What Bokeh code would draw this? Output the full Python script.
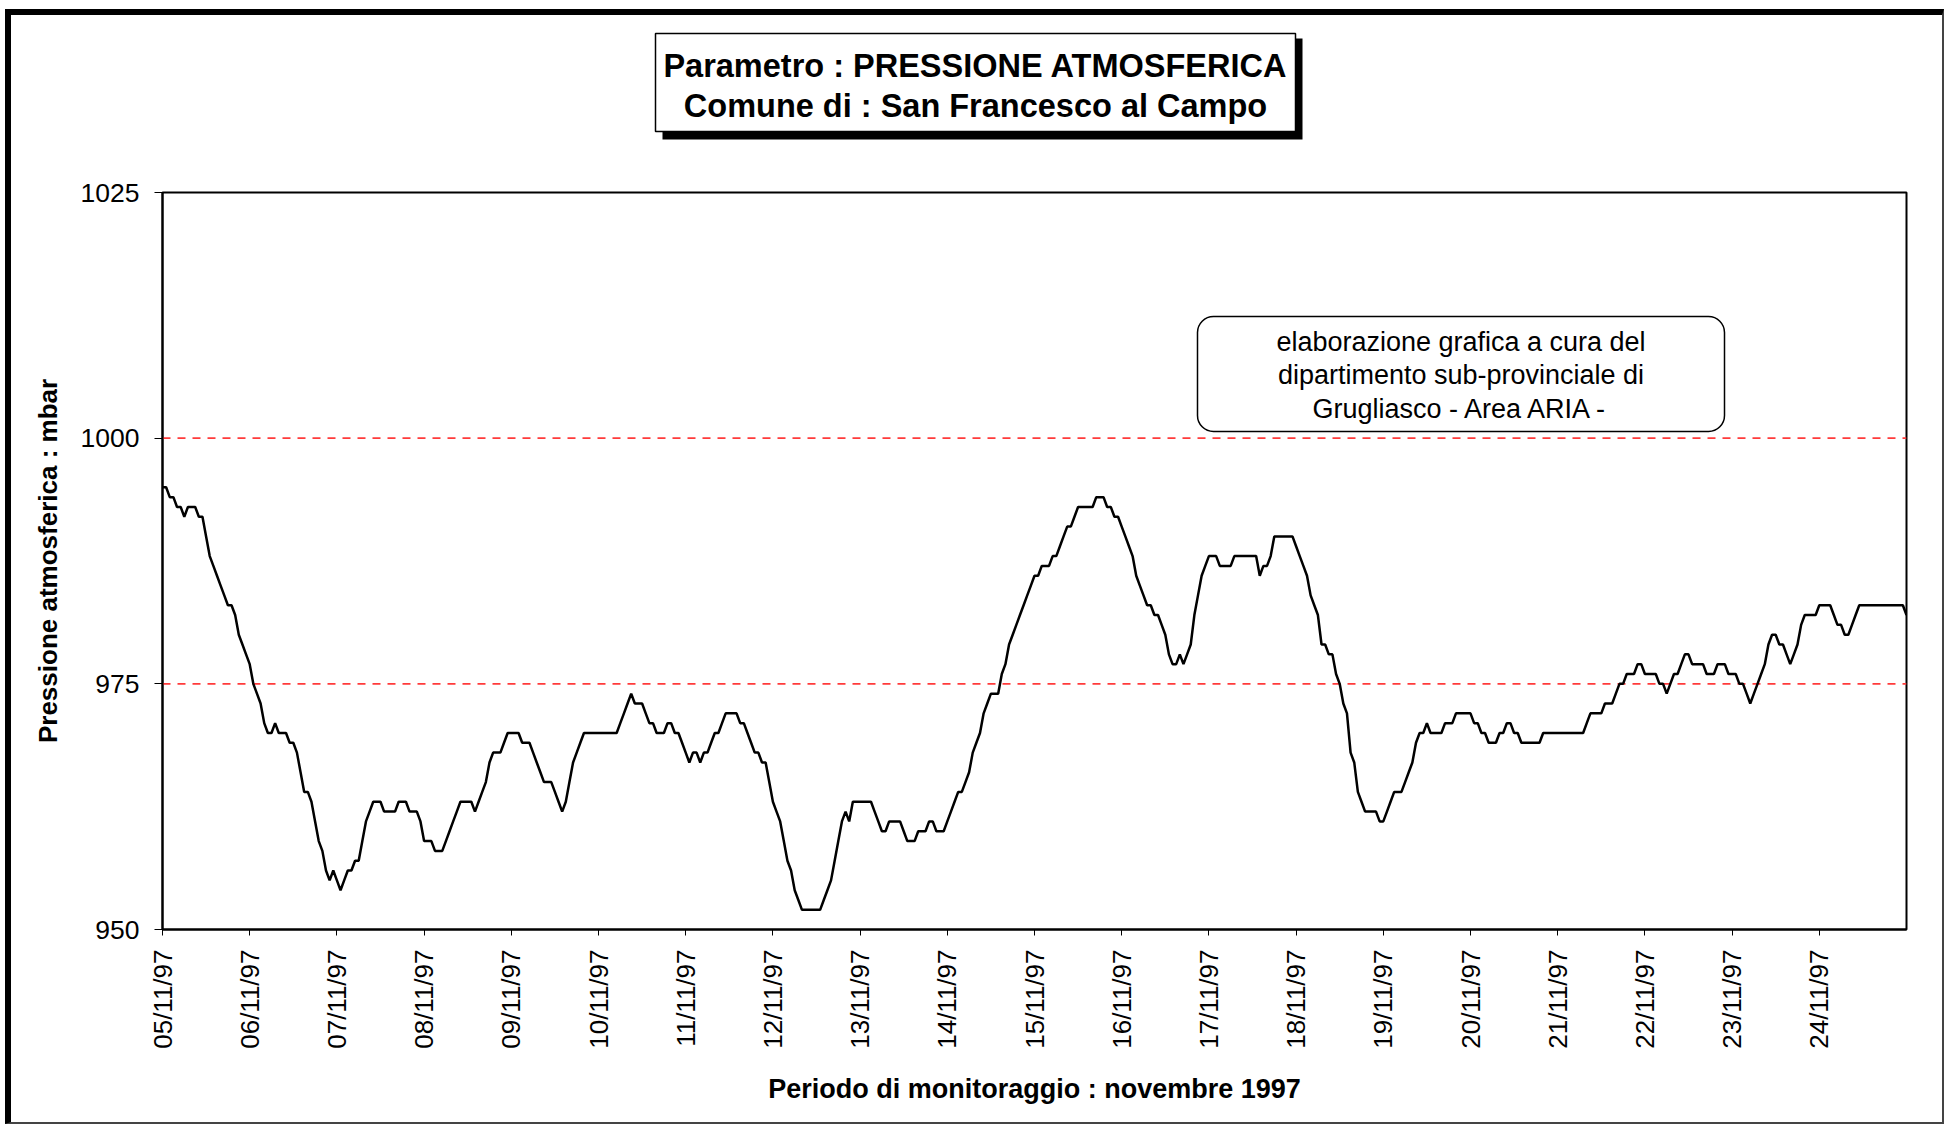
import numpy as np
from bokeh.plotting import figure
from bokeh.layouts import column
from bokeh.models import FixedTicker, Span, BoxAnnotation, Label, Range1d
from bokeh.embed import file_html
from bokeh.resources import INLINE

# ---- hourly pressure readings (mbar), one list per day of November 1997 ----
day_05 = [995, 995, 994, 994, 993, 993, 992, 993, 993, 993, 992, 992, 990, 988, 987, 986, 985, 984, 983, 983, 982, 980, 979, 978]
day_06 = [977, 975, 974, 973, 971, 970, 970, 971, 970, 970, 970, 969, 969, 968, 966, 964, 964, 963, 961, 959, 958, 956, 955, 956]
day_07 = [955, 954, 955, 956, 956, 957, 957, 959, 961, 962, 963, 963, 963, 962, 962, 962, 962, 963, 963, 963, 962, 962, 962, 961]
day_08 = [959, 959, 959, 958, 958, 958, 959, 960, 961, 962, 963, 963, 963, 963, 962, 963, 964, 965, 967, 968, 968, 968, 969, 970]
day_09 = [970, 970, 970, 969, 969, 969, 968, 967, 966, 965, 965, 965, 964, 963, 962, 963, 965, 967, 968, 969, 970, 970, 970, 970]
day_10 = [970, 970, 970, 970, 970, 970, 971, 972, 973, 974, 973, 973, 973, 972, 971, 971, 970, 970, 970, 971, 971, 970, 970, 969]
day_11 = [968, 967, 968, 968, 967, 968, 968, 969, 970, 970, 971, 972, 972, 972, 972, 971, 971, 970, 969, 968, 968, 967, 967, 965]
day_12 = [963, 962, 961, 959, 957, 956, 954, 953, 952, 952, 952, 952, 952, 952, 953, 954, 955, 957, 959, 961, 962, 961, 963, 963]
day_13 = [963, 963, 963, 963, 962, 961, 960, 960, 961, 961, 961, 961, 960, 959, 959, 959, 960, 960, 960, 961, 961, 960, 960, 960]
day_14 = [961, 962, 963, 964, 964, 965, 966, 968, 969, 970, 972, 973, 974, 974, 974, 976, 977, 979, 980, 981, 982, 983, 984, 985]
day_15 = [986, 986, 987, 987, 987, 988, 988, 989, 990, 991, 991, 992, 993, 993, 993, 993, 993, 994, 994, 994, 993, 993, 992, 992]
day_16 = [991, 990, 989, 988, 986, 985, 984, 983, 983, 982, 982, 981, 980, 978, 977, 977, 978, 977, 978, 979, 982, 984, 986, 987]
day_17 = [988, 988, 988, 987, 987, 987, 987, 988, 988, 988, 988, 988, 988, 988, 986, 987, 987, 988, 990, 990, 990, 990, 990, 990]
day_18 = [989, 988, 987, 986, 984, 983, 982, 979, 979, 978, 978, 976, 975, 973, 972, 968, 967, 964, 963, 962, 962, 962, 962, 961]
day_19 = [961, 962, 963, 964, 964, 964, 965, 966, 967, 969, 970, 970, 971, 970, 970, 970, 970, 971, 971, 971, 972, 972, 972, 972]
day_20 = [972, 971, 971, 970, 970, 969, 969, 969, 970, 970, 971, 971, 970, 970, 969, 969, 969, 969, 969, 969, 970, 970, 970, 970]
day_21 = [970, 970, 970, 970, 970, 970, 970, 970, 971, 972, 972, 972, 972, 973, 973, 973, 974, 975, 975, 976, 976, 976, 977, 977]
day_22 = [976, 976, 976, 976, 975, 975, 974, 975, 976, 976, 977, 978, 978, 977, 977, 977, 977, 976, 976, 976, 977, 977, 977, 976]
day_23 = [976, 976, 975, 975, 974, 973, 974, 975, 976, 977, 979, 980, 980, 979, 979, 978, 977, 978, 979, 981, 982, 982, 982, 982]
day_24 = [983, 983, 983, 983, 982, 981, 981, 980, 980, 981, 982, 983, 983, 983, 983, 983, 983, 983, 983, 983, 983, 983, 983, 983]
day_25 = [982]

pressione_mbar = (day_05 + day_06 + day_07 + day_08 + day_09 + day_10 + day_11 + day_12
                  + day_13 + day_14 + day_15 + day_16 + day_17 + day_18 + day_19 + day_20
                  + day_21 + day_22 + day_23 + day_24 + day_25)
ore = list(range(len(pressione_mbar)))

tick_labels = ["05/11/97", "06/11/97", "07/11/97", "08/11/97", "09/11/97", "10/11/97",
               "11/11/97", "12/11/97", "13/11/97", "14/11/97", "15/11/97", "16/11/97",
               "17/11/97", "18/11/97", "19/11/97", "20/11/97", "21/11/97", "22/11/97",
               "23/11/97", "24/11/97"]
tick_ore = [24 * i for i in range(len(tick_labels))]
y_ticks = [950, 975, 1000, 1025]
soglie = [975, 1000]

title_lines = ["Parametro : PRESSIONE ATMOSFERICA", "Comune di : San Francesco al Campo"]
note_lines = ["elaborazione grafica a cura del", "dipartimento sub-provinciale di",
              "Grugliasco - Area ARIA -"]

FONT = "Liberation Sans"
W = 1931

def cbox(l, r, t, b, **kw):
    return BoxAnnotation(left=l, right=r, top=t, bottom=b, left_units="canvas",
                         right_units="canvas", top_units="canvas", bottom_units="canvas",
                         fill_alpha=1.0, line_alpha=1.0, **kw)

# ---------------- header (title box with shadow) ----------------
HH = 145
ph = figure(width=W, height=HH, output_backend="svg", toolbar_location=None,
            x_range=Range1d(0, W), y_range=Range1d(0, HH),
            x_axis_location=None, y_axis_location=None, min_border=0)
ph.grid.visible = False
ph.outline_line_color = None
ph.background_fill_color = "white"
ph.border_fill_color = "white"
ph.add_layout(cbox(651, 1291, 23, 124, fill_color="black", line_color=None))
ph.add_layout(cbox(644, 1284, 18, 116, fill_color="white", line_color="black", line_width=1.5))
for i, t in enumerate(title_lines):
    ph.add_layout(Label(x=964, y=50 + 40.5 * i, x_units="canvas", y_units="canvas", text=t,
                        text_align="center", text_baseline="middle", text_font=FONT,
                        text_font_size="32.5px", text_font_style="bold", text_color="black"))

# ---------------- main chart ----------------
p = figure(width=W, height=962, output_backend="svg", toolbar_location=None,
           x_range=Range1d(0, 480), y_range=Range1d(950, 1025),
           min_border_left=151, min_border_right=36, min_border_top=32, min_border_bottom=193)
p.background_fill_color = "white"
p.border_fill_color = "white"
p.grid.visible = False
p.outline_line_color = "black"
p.outline_line_width = 2

for s in soglie:
    p.add_layout(Span(location=s, dimension="width", line_color="#ff3b3b", line_width=1.8,
                      line_dash="8 7", level="underlay"))

p.line(ore, pressione_mbar, line_color="black", line_width=2.5)

xa = p.xaxis[0]
xa.ticker = FixedTicker(ticks=tick_ore, minor_ticks=[])
xa.major_label_overrides = {t: l for t, l in zip(tick_ore, tick_labels)}
xa.major_label_orientation = np.pi / 2
xa.major_label_text_font = FONT
xa.major_label_text_font_size = "26px"
xa.major_label_text_color = "black"
xa.major_label_standoff = 14
xa.major_tick_out = 6
xa.major_tick_in = 0
xa.major_tick_line_color = "black"
xa.axis_line_color = "black"
xa.axis_line_width = 2
xa.axis_label = "Periodo di monitoraggio : novembre 1997"
xa.axis_label_text_font = FONT
xa.axis_label_text_font_style = "bold"
xa.axis_label_text_font_size = "27px"
xa.axis_label_text_color = "black"
xa.axis_label_standoff = 22

ya = p.yaxis[0]
ya.ticker = FixedTicker(ticks=y_ticks, minor_ticks=[])
ya.major_label_text_font = FONT
ya.major_label_text_font_size = "26.5px"
ya.major_label_text_color = "black"
ya.major_label_standoff = 15
ya.major_tick_out = 8
ya.major_tick_in = 0
ya.major_tick_line_color = "black"
ya.axis_line_color = "black"
ya.axis_line_width = 2
ya.axis_label = "Pressione atmosferica : mbar"
ya.axis_label_text_font = FONT
ya.axis_label_text_font_style = "bold"
ya.axis_label_text_font_size = "26px"
ya.axis_label_text_color = "black"
ya.axis_label_standoff = 15

# note box (rounded)
OX, OY = 11, 160
p.add_layout(cbox(1197 - OX, 1724 - OX, 316 - OY, 431 - OY, fill_color="white",
                  line_color="black", line_width=1.5, border_radius=16))
for i, t in enumerate(note_lines):
    p.add_layout(Label(x=1460.5 - OX, y=341 - OY + 33.5 * i, x_units="canvas", y_units="canvas",
                       text=t, text_align="center", text_baseline="middle", text_font=FONT,
                       text_font_size="27px", text_color="black"))

layout = column(ph, p, spacing=0, margin=(9, 0, 0, 5),
                styles={"border-top": "6px solid #000000", "border-left": "6px solid #000000",
                        "border-right": "2px solid #444444", "border-bottom": "2px solid #444444"})

open("out.html", "w").write(file_html(layout, INLINE))
